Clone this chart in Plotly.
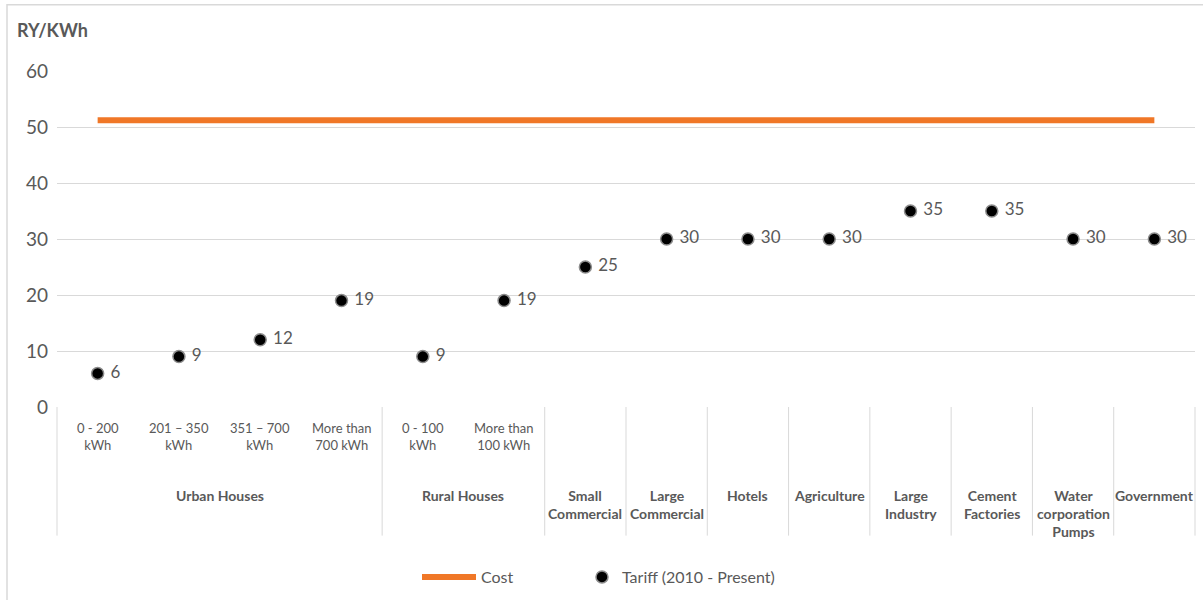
import plotly.graph_objects as go

# Tariff categories (inner level) and their customer groups (outer level)
inner_labels = [
    "0 - 200<br>kWh", "201 – 350<br>kWh", "351 – 700<br>kWh", "More than<br>700 kWh",
    "0 - 100<br>kWh", "More than<br>100 kWh",
    "", "", "", "", "", "", "", "",
]
group_labels = [
    "Urban Houses", "Rural Houses", "Small<br>Commercial", "Large<br>Commercial",
    "Hotels", "Agriculture", "Large<br>Industry", "Cement<br>Factories",
    "Water<br>corporation<br>Pumps", "Government",
]
group_sizes = [4, 2, 1, 1, 1, 1, 1, 1, 1, 1]

tariff = [6, 9, 12, 19, 9, 19, 25, 30, 30, 30, 35, 35, 30, 30]
cost = [51.2, 51.2, 51.2, 51.2, 51.2, 51.2, 51.2, 51.2, 51.2, 51.2, 51.2, 51.2, 51.2, 51.2]
y_ticks = [0, 10, 20, 30, 40, 50, 60]

FONT = "Lato"
TEXT = "#595959"
GRID = "#D9D9D9"
ORANGE = "#F07727"

n = len(tariff)
xs = list(range(n))

# pixel geometry of the plot area
W, H = 1203, 600
L, R, T, B = 57, 8, 71, 192
plot_w = W - L - R
plot_h = H - T - B


def py(p):
    """Vertical pixel position (from top) to paper coordinate."""
    return (H - B - p) / plot_h


def px(p):
    """Horizontal pixel position (from left) to paper coordinate."""
    return (p - L) / plot_w


fig = go.Figure()

fig.add_trace(go.Scatter(
    x=xs, y=cost, mode="lines", name="Cost",
    line=dict(color=ORANGE, width=6),
    hoverinfo="skip", legend="legend",
))

fig.add_trace(go.Scatter(
    x=xs, y=tariff, mode="markers+text", name="Tariff (2010 - Present)",
    marker=dict(color="black", size=12, line=dict(color="#8C8C8C", width=1.5)),
    text=["\u00a0" + str(v) for v in tariff], textposition="middle right",
    textfont=dict(family=FONT, size=17, color=TEXT),
    cliponaxis=False, legend="legend2",
))

shapes = []
annotations = []

# group separators and group labels under the axis
bounds = [0]
for s in group_sizes:
    bounds.append(bounds[-1] + s)

for b in bounds:
    xp = b / n
    shapes.append(dict(type="line", xref="paper", yref="paper",
                       x0=xp, x1=xp, y0=0, y1=py(537),
                       line=dict(color=GRID, width=1)))

for i, lab in enumerate(group_labels):
    center = (bounds[i] + bounds[i + 1]) / 2 / n
    annotations.append(dict(
        x=center, y=py(486), xref="paper", yref="paper",
        text="<b>" + lab + "</b>", showarrow=False,
        xanchor="center", yanchor="top",
        font=dict(family=FONT, size=14, color=TEXT),
    ))

# inner category labels
for i, lab in enumerate(inner_labels):
    if lab:
        annotations.append(dict(
            x=xs[i], y=py(419), xref="x", yref="paper",
            text=lab, showarrow=False, xanchor="center", yanchor="top",
            font=dict(family=FONT, size=13, color=TEXT),
        ))

# axis title
annotations.append(dict(
    x=px(15), y=py(30), xref="paper", yref="paper",
    text="<b>RY/KWh</b>", showarrow=False, xanchor="left", yanchor="middle",
    font=dict(family=FONT, size=18, color=TEXT),
))

# chart-area border
shapes.append(dict(type="rect", xref="paper", yref="paper",
                   x0=px(7), x1=px(1210), y0=py(607), y1=py(4.5),
                   line=dict(color=GRID, width=1.5), layer="below"))

legend_font = dict(family=FONT, size=16, color=TEXT)

fig.update_layout(
    width=W, height=H,
    margin=dict(l=L, r=R, t=T, b=B),
    paper_bgcolor="white", plot_bgcolor="white",
    font=dict(family=FONT, color=TEXT),
    showlegend=True,
    legend=dict(
        orientation="h", x=px(417), xanchor="left", y=py(577), yanchor="middle",
        font=legend_font, itemwidth=54, bgcolor="rgba(0,0,0,0)",
    ),
    legend2=dict(
        orientation="h", x=px(582), xanchor="left", y=py(577), yanchor="middle",
        font=legend_font, itemwidth=30, bgcolor="rgba(0,0,0,0)",
    ),
    shapes=shapes,
    annotations=annotations,
    xaxis=dict(
        range=[-0.5, n - 0.5], showgrid=False, zeroline=False,
        showticklabels=False, ticks="", showline=False, fixedrange=True,
    ),
    yaxis=dict(
        range=[0, 60], tickvals=y_ticks, showgrid=True, gridcolor=GRID, gridwidth=1,
        zeroline=False, showline=False, ticks="",
        tickfont=dict(family=FONT, size=19, color=TEXT),
        ticklabelstandoff=8, fixedrange=True,
    ),
)

fig.write_html("out.html")
